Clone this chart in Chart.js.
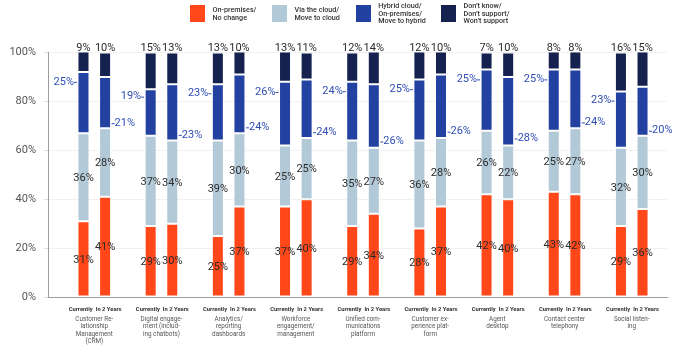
<!DOCTYPE html>
<html>
<head>
<meta charset="utf-8">
<script src="https://cdn.jsdelivr.net/npm/chart.js@4/dist/chart.umd.min.js"></script>
<style>
  html, body { margin: 0; padding: 0; background: #fff; }
  #wrap { position: relative; width: 688px; height: 345px; overflow: hidden; }
  #chart { position: absolute; left: 0; top: 0; }
  .item { position: absolute; top: 5px; height: 17px; display: flex; align-items: center;
          font-family: Roboto, sans-serif; font-size: 7.2px; font-weight: 500; color: #333; line-height: 7.7px; }
  .sw { width: 15px; height: 17px; margin-right: 7.5px; flex: none; }
</style>
</head>
<body>
<div id="wrap">
  <canvas id="chart" width="688" height="345"></canvas>
  <div id="legend"></div>
</div>
<script>
// Survey categories (wrapped as printed under each group)
const categories = [
  ["Customer Re-", "lationship", "Management", "(CRM)"],
  ["Digital engage-", "ment (includ-", "ing chatbots)"],
  ["Analytics/", "reporting", "dashboards"],
  ["Workforce", "engagement/", "management"],
  ["Unified com-", "munications", "platform"],
  ["Customer ex-", "perience plat-", "form"],
  ["Agent", "desktop"],
  ["Contact center", "telephony"],
  ["Social listen-", "ing"]
];
const periods = ["Currently", "In 2 Years"];

// Share of respondents (%) per deployment choice
const onPremCurrent  = [31, 29, 25, 37, 29, 28, 42, 43, 29];
const onPremFuture   = [41, 30, 37, 40, 34, 37, 40, 42, 36];
const cloudCurrent   = [36, 37, 39, 25, 35, 36, 26, 25, 32];
const cloudFuture    = [28, 34, 30, 25, 27, 28, 22, 27, 30];
const hybridCurrent  = [25, 19, 23, 26, 24, 25, 25, 25, 23];
const hybridFuture   = [21, 23, 24, 24, 26, 26, 28, 24, 20];
const unknownCurrent = [ 9, 15, 13, 13, 12, 12,  7,  8, 16];
const unknownFuture  = [10, 13, 10, 11, 14, 10, 10,  8, 15];

const yTicks = [0, 20, 40, 60, 80, 100];

const seriesNames = [
  ["On-premises/", "No change"],
  ["Via the cloud/", "Move to cloud"],
  ["Hybrid cloud/", "On-premises/", "Move to hybrid"],
  ["Don\u2019t know/", "Don\u2019t support/", "Won\u2019t support"]
];
const seriesColors = ["#FF471A", "#B2C9D8", "#2241A1", "#15224F"];
const seriesData = [
  [onPremCurrent, onPremFuture],
  [cloudCurrent, cloudFuture],
  [hybridCurrent, hybridFuture],
  [unknownCurrent, unknownFuture]
];

// HTML legend
const legendX = [190, 272, 355.7, 441];
const legendEl = document.getElementById('legend');
seriesNames.forEach((lines, s) => {
  const it = document.createElement('div');
  it.className = 'item';
  it.style.left = legendX[s] + 'px';
  const sw = document.createElement('div');
  sw.className = 'sw';
  sw.style.background = seriesColors[s];
  const tx = document.createElement('div');
  tx.innerHTML = lines.join('<br>');
  it.appendChild(sw);
  it.appendChild(tx);
  legendEl.appendChild(it);
});

const datasets = [];
seriesData.forEach((pair, s) => {
  pair.forEach((vals, p) => {
    datasets.push({
      label: seriesNames[s].join(' '),
      series: s,
      period: p,
      stack: 'p' + p,
      data: vals.map((v, i) => ({ x: i, y: v })),
      backgroundColor: seriesColors[s],
      borderColor: 'rgba(255,255,255,0.35)',
      borderWidth: 1,
      borderSkipped: false,
      categoryPercentage: 0.643,
      barPercentage: 0.556
    });
  });
});

const FONT = 'Roboto, sans-serif';

const valueLabels = {
  id: 'valueLabels',
  afterDatasetsDraw(chart) {
    const ctx = chart.ctx;
    const top = chart.chartArea.top;
    ctx.save();
    chart.data.datasets.forEach((ds, d) => {
      const meta = chart.getDatasetMeta(d);
      meta.data.forEach((bar, i) => {
        const v = ds.data[i].y;
        const txt = v + '%';
        const left = bar.x - bar.width / 2;
        const right = bar.x + bar.width / 2;
        const yTop = Math.max(bar.y, top);
        if (ds.series <= 1) {
          ctx.font = '11px ' + FONT;
          ctx.fillStyle = '#2b2b2b';
          ctx.textAlign = 'center';
          ctx.textBaseline = 'middle';
          ctx.fillText(txt, bar.x, (yTop + bar.base) / 2 + 1);
        } else if (ds.series === 2) {
          const frac = ds.period === 0 ? 0.84 : 0.1;
          const y = bar.base + (bar.y - bar.base) * frac;
          ctx.font = '11px ' + FONT;
          ctx.fillStyle = '#2F4DB5';
          ctx.strokeStyle = '#2F4DB5';
          ctx.lineWidth = 1;
          ctx.textBaseline = 'middle';
          ctx.beginPath();
          if (ds.period === 0) {
            ctx.moveTo(left - 0.5, y + 0.5);
            ctx.lineTo(left - 3.5, y + 0.5);
            ctx.stroke();
            ctx.textAlign = 'right';
            ctx.fillText(txt, left - 3.5, y);
          } else {
            ctx.moveTo(right + 0.5, y + 0.5);
            ctx.lineTo(right + 3.5, y + 0.5);
            ctx.stroke();
            ctx.textAlign = 'left';
            ctx.fillText(txt, right + 3.5, y);
          }
        } else {
          ctx.font = '11px ' + FONT;
          ctx.fillStyle = '#2b2b2b';
          ctx.textAlign = 'center';
          ctx.textBaseline = 'alphabetic';
          ctx.fillText(txt, bar.x, yTop - 1.5);
        }
      });
    });
    ctx.restore();
  }
};

const groupLabels = {
  id: 'groupLabels',
  afterDraw(chart) {
    const ctx = chart.ctx;
    const xs = chart.scales.x;
    ctx.save();
    ctx.textBaseline = 'middle';
    categories.forEach((lines, i) => {
      const cx = xs.getPixelForValue(i);
      ctx.font = 'bold 5.8px ' + FONT;
      ctx.fillStyle = '#333';
      ctx.textAlign = 'right';
      ctx.fillText(periods[0], cx - 1.6, 310);
      ctx.textAlign = 'left';
      ctx.fillText(periods[1], cx + 1.4, 310);
      ctx.font = '6.3px ' + FONT;
      ctx.fillStyle = '#555';
      ctx.textAlign = 'center';
      lines.forEach((ln, k) => ctx.fillText(ln, cx, 319.7 + k * 7.15));
    });
    ctx.restore();
  }
};

new Chart(document.getElementById('chart'), {
  type: 'bar',
  data: { datasets },
  options: {
    responsive: false,
    animation: false,
    layout: { padding: { top: 52.5, right: 21, left: 0, bottom: 0 } },
    plugins: { legend: { display: false }, tooltip: { enabled: false } },
    scales: {
      x: {
        type: 'linear',
        offset: false,
        min: -0.689,
        max: 8.525,
        stacked: true,
        afterBuildTicks(scale) { scale.ticks = categories.map((_, i) => ({ value: i })); },
        afterFit(scale) { scale.height = 48; },
        ticks: { display: false },
        grid: { display: false, offset: false },
        border: { display: true, color: '#9c9c9c', width: 1 }
      },
      y: {
        min: 0,
        max: 100,
        stacked: true,
        afterBuildTicks(scale) { scale.ticks = yTicks.map(v => ({ value: v })); },
        afterFit(scale) { scale.width = 48; },
        ticks: {
          callback: v => v + '%',
          font: { family: FONT, size: 11 },
          color: '#555',
          padding: 8
        },
        grid: { color: '#f1f1f1', tickLength: 4, tickColor: '#e0e0e0' },
        border: { display: true, color: '#9c9c9c', width: 1 }
      }
    }
  },
  plugins: [valueLabels, groupLabels]
});
</script>
</body>
</html>
